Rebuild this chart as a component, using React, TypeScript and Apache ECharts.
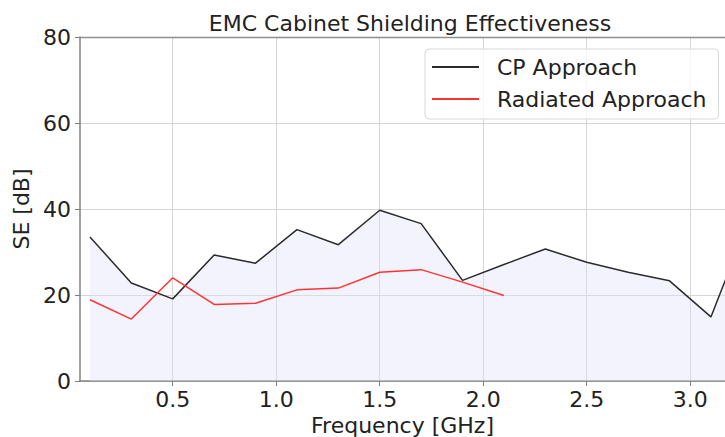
import React, { useEffect, useRef } from "react";
import * as echarts from "echarts";

const frequenciesCP = [0.1, 0.3, 0.5, 0.7, 0.9, 1.1, 1.3, 1.5, 1.7, 1.9, 2.1, 2.3, 2.5, 2.7, 2.9, 3.1, 3.3];
const cpValues = [33.5, 22.8, 19.1, 29.3, 27.4, 35.2, 31.7, 39.7, 36.6, 23.4, 27.1, 30.7, 27.6, 25.3, 23.3, 14.9, 39.5];
const frequenciesRad = [0.1, 0.3, 0.5, 0.7, 0.9, 1.1, 1.3, 1.5, 1.7, 1.9, 2.1];
const radiatedValues = [18.9, 14.4, 24.0, 17.8, 18.1, 21.2, 21.6, 25.3, 25.9, 23.0, 19.9];
const xTicks = [0.5, 1.0, 1.5, 2.0, 2.5, 3.0];
const yTicks = [0, 20, 40, 60, 80];

const FONT = "DejaVu Sans";

export default function App() {
  const ref = useRef<HTMLDivElement>(null);
  useEffect(() => {
    if (!ref.current) return;
    const chart = echarts.init(ref.current, undefined, { renderer: "svg" });
    const cpData = frequenciesCP.map((f, i) => [f, cpValues[i]]);
    const radData = frequenciesRad.map((f, i) => [f, radiatedValues[i]]);
    chart.setOption({
      animation: false,
      backgroundColor: "#ffffff",
      title: {
        text: "EMC Cabinet Shielding Effectiveness",
        left: 405,
        textAlign: "center",
        top: 7,
        textStyle: { fontFamily: FONT, fontSize: 22, fontWeight: "normal", color: "#222" },
      },
      legend: {
        orient: "vertical",
        left: 425,
        top: 49,
        padding: [7, 12, 9, 7],
        itemGap: 10,
        itemWidth: 47,
        itemHeight: 2,
        icon: "rect",
        backgroundColor: "rgba(255,255,255,0.8)",
        borderColor: "#d8d8d8",
        borderWidth: 1,
        borderRadius: 4,
        textStyle: { fontFamily: FONT, fontSize: 22, color: "#222", padding: [0, 0, 0, 13] },
        data: ["CP Approach", "Radiated Approach"],
      },
      grid: { left: 80, top: 37, right: 0, bottom: 56, containLabel: false, outerBoundsMode: "none" },
      xAxis: {
        type: "value",
        min: 0.052,
        max: 3.168,
        name: "Frequency [GHz]",
        nameLocation: "middle",
        nameGap: 30,
        nameTextStyle: { fontFamily: FONT, fontSize: 22, color: "#222" },
        axisLine: { show: true, lineStyle: { color: "#808080", width: 1.5 } },
        axisTick: { show: true, length: 5, customValues: xTicks, lineStyle: { color: "#808080" } },
        axisLabel: {
          customValues: xTicks,
          formatter: (v: number) => v.toFixed(1),
          fontFamily: FONT,
          fontSize: 22,
          color: "#222",
          margin: 7,
        },
        splitLine: { show: true, lineStyle: { color: "#d6d6d6", width: 1 } },
      },
      yAxis: {
        type: "value",
        min: 0,
        max: 80,
        interval: 20,
        name: "SE [dB]",
        nameLocation: "middle",
        nameGap: 41,
        nameTextStyle: { fontFamily: FONT, fontSize: 22, color: "#222" },
        axisLine: { show: true, lineStyle: { color: "#808080", width: 1.5 } },
        axisTick: { show: true, length: 5, lineStyle: { color: "#808080" } },
        axisLabel: {
          fontFamily: FONT,
          fontSize: 22,
          color: "#222",
          margin: 9,
          formatter: (v: number) => (yTicks.includes(v) ? String(v) : ""),
        },
        splitLine: { show: true, lineStyle: { color: "#d6d6d6", width: 1 } },
      },
      graphic: [
        {
          type: "line",
          shape: { x1: 80, y1: 37.5, x2: 725, y2: 37.5 },
          style: { stroke: "#909090", lineWidth: 1.5 },
          z: 100,
        },
      ],
      series: [
        {
          name: "CP Approach",
          type: "line",
          data: cpData,
          symbol: "none",
          lineStyle: { color: "#2b2b2b", width: 1.5 },
          itemStyle: { color: "#2b2b2b" },
          areaStyle: { color: "rgba(225,225,250,0.55)", origin: "start" },
          z: 3,
        },
        {
          name: "Radiated Approach",
          type: "line",
          data: radData,
          symbol: "none",
          lineStyle: { color: "#ff3333", width: 1.5 },
          itemStyle: { color: "#ff3333" },
          z: 4,
        },
      ],
    });
    return () => chart.dispose();
  }, []);
  return <div ref={ref} style={{ width: 725, height: 437, position: "fixed", left: 0, top: 0 }} />;
}
